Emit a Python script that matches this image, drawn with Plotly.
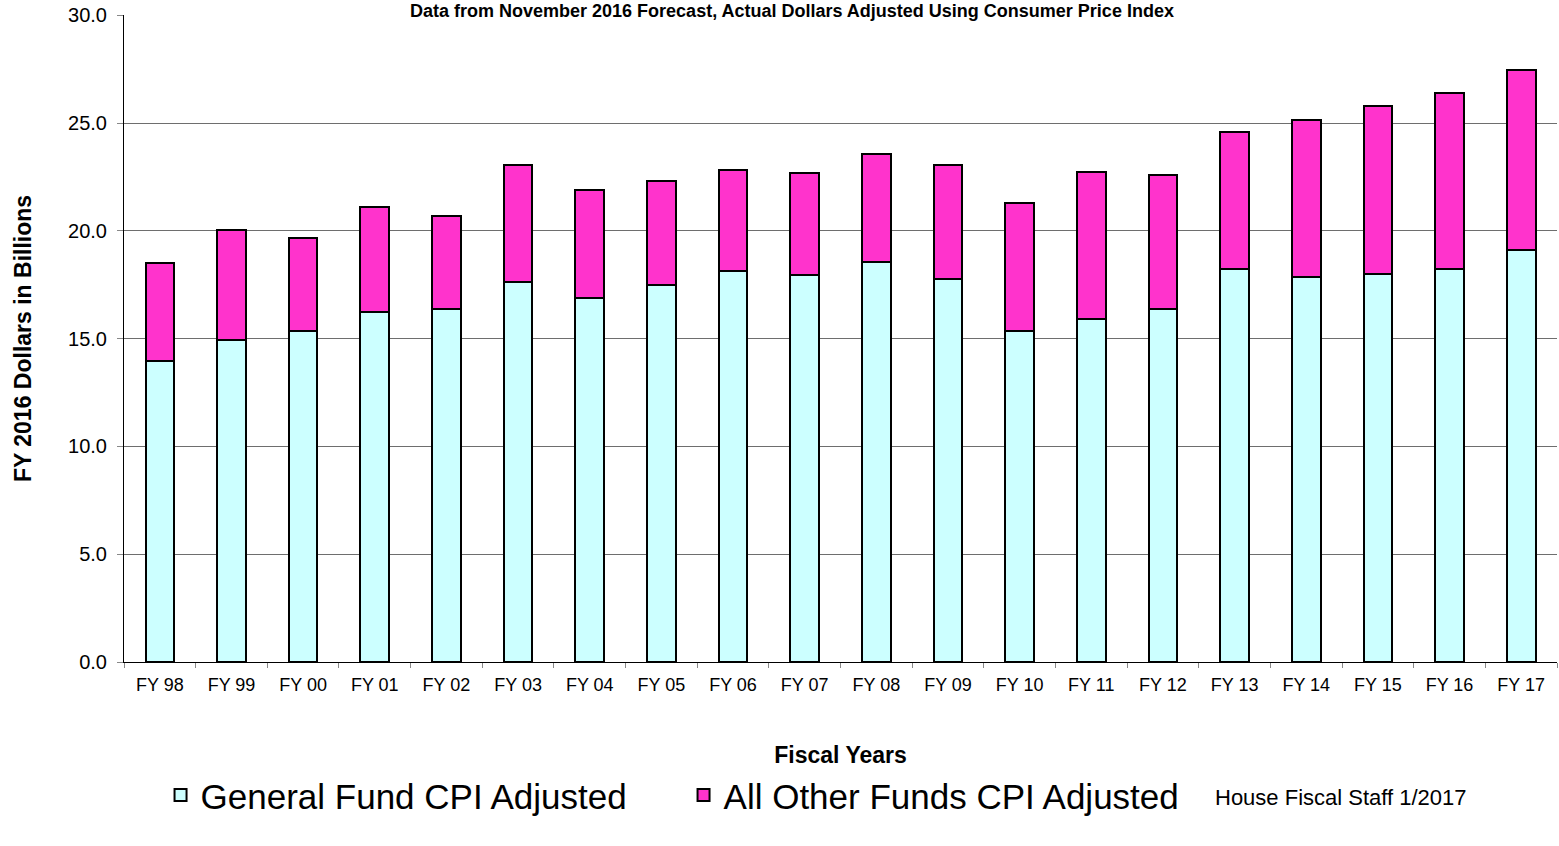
import plotly.graph_objects as go

years = ["FY 98", "FY 99", "FY 00", "FY 01", "FY 02", "FY 03", "FY 04", "FY 05", "FY 06", "FY 07",
         "FY 08", "FY 09", "FY 10", "FY 11", "FY 12", "FY 13", "FY 14", "FY 15", "FY 16", "FY 17"]
general_fund = [13.98, 14.94, 15.38, 16.26, 16.36, 17.62, 16.90, 17.51, 18.15, 17.94,
                18.55, 17.79, 15.35, 15.93, 16.39, 18.25, 17.88, 18.02, 18.25, 19.13]
other_funds = [4.55, 5.12, 4.30, 4.85, 4.32, 5.42, 5.01, 4.80, 4.70, 4.74,
               5.03, 5.25, 5.93, 6.80, 6.19, 6.35, 7.29, 7.80, 8.16, 8.33]

FONT = "Liberation Sans, Arial, sans-serif"

fig = go.Figure()
for values, color, name in [(general_fund, "#CCFFFF", "General Fund CPI Adjusted"),
                            (other_funds, "#FF33CC", "All Other Funds CPI Adjusted")]:
    fig.add_trace(go.Bar(
        x=years, y=values, name=name,
        marker={"color": color, "line": {"width": 2, "color": "#000000"}},
    ))

fig.update_layout(
    width=1559, height=846,
    barmode="stack", bargap=0.6,
    plot_bgcolor="#ffffff", paper_bgcolor="#ffffff",
    margin={"l": 124, "r": 2, "t": 15, "b": 184, "autoexpand": False},
    font={"family": FONT, "color": "#000000"},
    title={"text": "<b>Data from November 2016 Forecast, Actual Dollars Adjusted Using Consumer Price Index</b>",
           "x": 0.508, "xanchor": "center", "y": 0.9875, "yanchor": "middle",
           "font": {"size": 18, "family": FONT}},
    showlegend=True,
    legend={"orientation": "h", "x": 0.0255, "xanchor": "left", "y": -0.206, "yanchor": "middle",
            "font": {"size": 35, "family": FONT}, "traceorder": "normal",
            "itemwidth": 30, "entrywidth": 478, "bgcolor": "rgba(0,0,0,0)"},
)
fig.update_xaxes(
    automargin=False,
    showline=True, linecolor="#000000", linewidth=1,
    ticks="outside", tickson="boundaries", ticklen=5, tickcolor="#888888",
    ticklabelstandoff=6,
    tickfont={"size": 18, "family": FONT},
    title={"text": "<b>Fiscal Years</b>", "font": {"size": 23, "family": FONT}, "standoff": 53},
)
fig.update_yaxes(
    automargin=False,
    range=[0, 30.02], tickvals=[0, 5, 10, 15, 20, 25, 30], tickformat=".1f",
    showgrid=True, gridcolor="#6e6e6e", gridwidth=1,
    showline=True, linecolor="#000000", linewidth=1,
    ticks="outside", ticklen=6, tickcolor="#888888",
    ticklabelstandoff=6,
    tickfont={"size": 20, "family": FONT}, zeroline=False,
    title={"text": "<b>FY 2016 Dollars in Billions</b>", "font": {"size": 23, "family": FONT}, "standoff": 30},
)
fig.add_annotation(
    text="House Fiscal Staff 1/2017", xref="paper", yref="paper",
    x=(1341 - 124) / 1433, y=-0.209, xanchor="center", yanchor="middle",
    showarrow=False, font={"size": 22, "family": FONT},
)

# the page's default 8px body margin would shift the whole chart
fig.write_html("out.html", config={"displayModeBar": False},
               post_script="document.body.style.margin = '0';")
